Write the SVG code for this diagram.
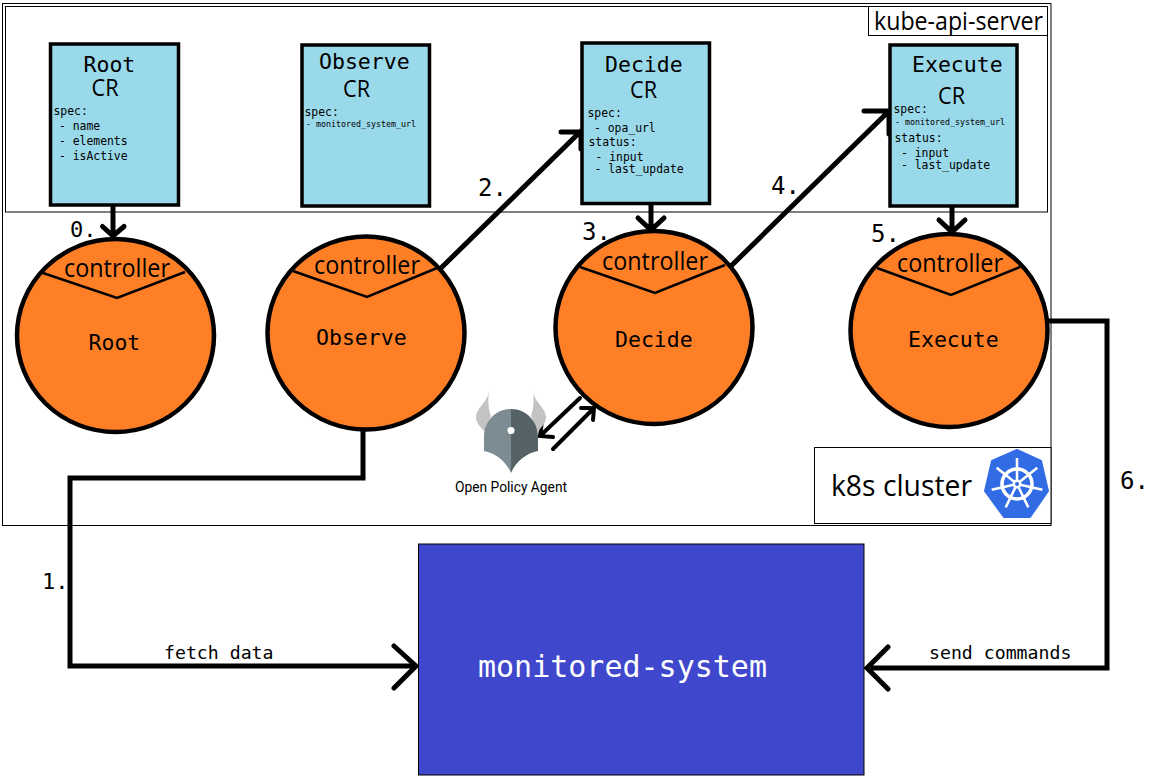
<svg xmlns="http://www.w3.org/2000/svg" width="1151" height="780" viewBox="0 0 1151 780">
<style>
.frame{fill:none;stroke:#000;stroke-width:1}
.cr{fill:#99d9ea;stroke:#000;stroke-width:3.5}
.ctl{fill:#ff7f27;stroke:#000;stroke-width:4.5}
.chev{fill:none;stroke:#000;stroke-width:2.5}
.link{fill:none;stroke:#000;stroke-width:5;stroke-linecap:round;stroke-linejoin:miter}
.link2{fill:none;stroke:#000;stroke-width:4;stroke-linecap:round}
.m{font-family:"DejaVu Sans Mono","Liberation Mono",monospace;fill:#000}
.s{font-family:"Open Sans","Noto Sans",sans-serif;fill:#000}
.t{font-size:21.5px}
.cr-l{font-size:24px}
.y{font-size:11.4px}
.tiny{font-size:8.3px}
.n{font-size:22px}
.n2{font-size:24px}
.c{font-size:26px}
.l{font-size:18.2px}
</style>
<rect x="2.5" y="3.5" width="1048.5" height="522" class="frame"/>
<rect x="5.5" y="6.5" width="1042" height="205.5" class="frame"/>
<g id="kube-api-server"><rect x="868.5" y="6.5" width="179" height="29" fill="#fff" stroke="#000"/><text x="874" y="30" class="s" font-size="25" textLength="169" lengthAdjust="spacingAndGlyphs">kube-api-server</text></g>
<g id="connectors">
<path class="link" d="M113 206V235M102.500 226.500L113 236L124 226.500"/>
<path class="link" d="M651 204V229M638 218L651 230L664 218"/>
<path class="link" d="M952 206V232M939 220L952 232L965 220"/>
<path class="link" d="M441 268L581 131M561 132H581V149"/>
<path class="link" d="M729 268L888 112M864 111H889V134"/>
<path class="link" d="M363 430V478H70V666H415M394 646L416 666L394 688"/>
<path class="link" d="M1048 321H1107V668H869M888 647L867 668L888 689"/>
<path class="link2" d="M580 398L541 435M542 421L540 436L553 437"/>
<path class="link2" d="M553 449L593 409M581 408L594 408L593 420"/>
</g>
<g id="root-cr"><rect x="50.500" y="44" width="128" height="161" class="cr"/><text x="83.500" y="72" class="m t">Root</text><text x="91.500" y="96" class="s cr-l" textLength="27" lengthAdjust="spacingAndGlyphs">CR</text><text x="53.500" y="115" class="m y">spec:</text><text x="59" y="130" class="m y">- name</text><text x="59" y="145" class="m y">- elements</text><text x="59" y="160" class="m y">- isActive</text></g>
<g id="observe-cr"><rect x="302" y="45" width="127.500" height="161" class="cr"/><text x="319" y="69" class="m t">Observe</text><text x="343" y="97" class="s cr-l" textLength="27" lengthAdjust="spacingAndGlyphs">CR</text><text x="304.500" y="116" class="m y">spec:</text><text x="306" y="127" class="m tiny">- monitored_system_url</text></g>
<g id="decide-cr"><rect x="582" y="43" width="127.500" height="160.500" class="cr"/><text x="605" y="72" class="m t">Decide</text><text x="630" y="98" class="s cr-l" textLength="27" lengthAdjust="spacingAndGlyphs">CR</text><text x="587.500" y="117" class="m y">spec:</text><text x="594" y="132" class="m y">- opa_url</text><text x="588.500" y="146" class="m y">status:</text><text x="595.500" y="161" class="m y">- input</text><text x="594.500" y="173" class="m y">- last_update</text></g>
<g id="execute-cr"><rect x="890" y="45" width="127" height="161" class="cr"/><text x="912" y="72" class="m t">Execute</text><text x="938" y="104" class="s cr-l" textLength="27" lengthAdjust="spacingAndGlyphs">CR</text><text x="893.500" y="113" class="m y">spec:</text><text x="895" y="125" class="m tiny">- monitored_system_url</text><text x="894.500" y="142" class="m y">status:</text><text x="901" y="157" class="m y">- input</text><text x="901" y="169" class="m y">- last_update</text></g>
<g id="root"><ellipse cx="115.500" cy="335.500" rx="98.500" ry="96.500" class="ctl"/><path class="chev" d="M43 273L117 298L185 272"/><text x="64" y="277" class="s c" textLength="106" lengthAdjust="spacingAndGlyphs">controller</text><text x="88.500" y="350" class="m t">Root</text></g>
<g id="observe"><ellipse cx="366" cy="333" rx="98.500" ry="96.500" class="ctl"/><path class="chev" d="M293 271L367 297L437 268"/><text x="314" y="274" class="s c" textLength="106" lengthAdjust="spacingAndGlyphs">controller</text><text x="316" y="345" class="m t">Observe</text></g>
<g id="decide"><ellipse cx="654" cy="327.500" rx="98.500" ry="96.500" class="ctl"/><path class="chev" d="M580 267L655 293L725 265"/><text x="602" y="270" class="s c" textLength="106" lengthAdjust="spacingAndGlyphs">controller</text><text x="615" y="347" class="m t">Decide</text></g>
<g id="execute"><ellipse cx="949" cy="330.500" rx="98.500" ry="96.500" class="ctl"/><path class="chev" d="M877 268L951 295L1020 267"/><text x="897" y="272" class="s c" textLength="106" lengthAdjust="spacingAndGlyphs">controller</text><text x="908" y="347" class="m t">Execute</text></g>
<g id="opa">
<path d="M489 391C488 402 476 408 476 417C476 424 482 428 485 432L491 416C488 408 488 399 489 391Z" fill="#c3c3c3"/>
<path d="M533 391C534 402 546 408 546 417C546 424 540 428 538 432L531 416C534 408 534 399 533 391Z" fill="#c3c3c3"/>
<path d="M511 409C495 409 484 422 484 437V451C495 453 506 461 511 473V409Z" fill="#7d8c93"/>
<path d="M511 409C527 409 538 422 538 437V451C527 453 516 461 511 473V409Z" fill="#566366"/>
<circle cx="511" cy="430.500" r="3.500" fill="#fff"/>
<text x="455" y="492" font-family="Roboto,sans-serif" font-size="14" textLength="112" lengthAdjust="spacingAndGlyphs" fill="#000">Open Policy Agent</text>
</g>
<g id="k8s-cluster"><rect x="814.500" y="447.500" width="236.500" height="76" fill="#fff" stroke="#000"/><text x="831" y="496" class="s" font-size="29" textLength="141" lengthAdjust="spacingAndGlyphs">k8s cluster</text>
<path d="M1017 450L1041 461L1048 491L1030 517H1004L985 491L992 461Z" fill="#326ce5" stroke="#326ce5" stroke-width="2" stroke-linejoin="round"/>
<g fill="none" stroke="#fff"><circle cx="1017" cy="484" r="15" stroke-width="3.500"/><path stroke-width="2.500" d="M1017 484V458M1017 484L1037.300 467.800M1017 484L1042.300 489.800M1017 484L1028.300 507.400M1017 484L1005.700 507.400M1017 484L991.700 489.800M1017 484L996.700 467.800"/></g>
<circle cx="1017" cy="484" r="4.500" fill="#fff"/><circle cx="1017" cy="484" r="2" fill="#326ce5"/></g>
<g id="monitored-system"><rect x="418.500" y="544" width="445.500" height="231" fill="#3f48cc" stroke="#000"/><text x="478" y="677" class="m" font-size="30" style="fill:#fff">monitored-system</text></g>
<g id="labels">
<text x="70" y="237" class="m n">0.</text><text x="42" y="589" class="m n">1.</text><text x="478" y="196" class="m n2">2.</text><text x="582" y="240" class="m n2">3.</text><text x="771" y="194" class="m n2">4.</text><text x="871" y="242" class="m n2">5.</text><text x="1120" y="489" class="m n2">6.</text>
<text x="164" y="658.500" class="m l">fetch data</text><text x="929" y="658.500" class="m l">send commands</text>
</g>
</svg>
